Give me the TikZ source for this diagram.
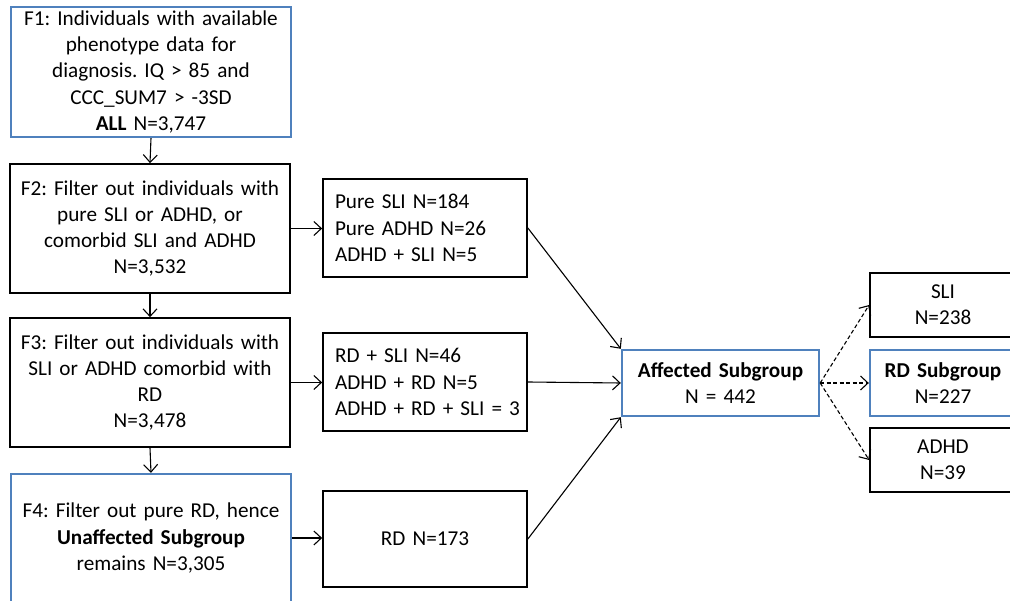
\documentclass[tikz,border=0pt]{standalone}
\usepackage{fontspec}
\setmainfont{Carlito}[WordSpace=0.8]
\usetikzlibrary{arrows.meta}
\definecolor{boxblue}{RGB}{79,129,189}
\frenchspacing
\begin{document}
\begin{tikzpicture}[x=1pt,y=-1pt,
  font=\fontsize{21.2}{26.3}\selectfont,
  bx/.style={draw=black,line width=1.7pt,inner sep=0pt,align=center,anchor=center},
  bluebx/.style={bx,draw=boxblue,line width=2.4pt},
  listbx/.style={bx,minimum width=204pt,minimum height=98pt,text width=180pt,inner xsep=12pt,align=left},
  arr/.style={line width=1.1pt,-{Straight Barb[length=7.5pt,width=14pt,line width=1.1pt]}},
  darr/.style={arr,dash pattern=on 4pt off 2.5pt}]
\useasboundingbox (0,0) rectangle (1010,601);
\clip (0,0) rectangle (1010,601);
\fill[white] (0,0) rectangle (1010,601);
\node[bluebx,minimum width=280pt,minimum height=130pt,text width=275pt] (f1) at (151,72)
  {F1: Individuals with available\\ phenotype data for\\ diagnosis. IQ > 85 and\\ CCC\_SUM7 > -3SD\\ \textbf{ALL} N=3,747};
\node[bx,minimum width=280pt,minimum height=129pt,text width=275pt] (f2) at (150,228.5)
  {F2: Filter out individuals with\\ pure SLI or ADHD, or\\ comorbid SLI and ADHD\\ N=3,532};
\node[bx,minimum width=280pt,minimum height=129pt,text width=275pt] (f3) at (150,382.5)
  {F3: Filter out individuals with\\ SLI or ADHD comorbid with\\ RD\\ N=3,478};
\node[bluebx,minimum width=280pt,minimum height=128pt,text width=275pt] (f4) at (151,538)
  {F4: Filter out pure RD, hence\\ \textbf{Unaffected Subgroup}\\ remains N=3,305};
\node[listbx] (b1) at (425,228)
  {\mbox{Pure SLI N=184}\\ \mbox{Pure ADHD N=26}\\ \mbox{ADHD + SLI N=5}};
\node[listbx] (b2) at (425,382)
  {\mbox{RD + SLI N=46}\\ \mbox{ADHD + RD N=5}\\ \mbox{ADHD + RD + SLI = 3}};
\node[bx,minimum width=204pt,minimum height=96pt,text width=190pt] (b3) at (425,539)
  {RD N=173};
\node[bluebx,minimum width=197pt,minimum height=66pt,text width=192pt] (aff) at (720.5,383)
  {\textbf{Affected Subgroup}\\ N = 442};
\node[bx,minimum width=146pt,minimum height=64pt,text width=142pt] (sli) at (943,305)
  {SLI\\ N=238};
\node[bluebx,minimum width=146pt,minimum height=66pt,text width=142pt] (rd) at (943,383)
  {\textbf{RD Subgroup}\\ N=227};
\node[bx,minimum width=146pt,minimum height=64pt,text width=142pt] (adhd) at (943,460)
  {ADHD\\ N=39};
\draw[arr] (f1.south) -- (f2.north);
\draw[arr] (f2.south) -- (f3.north);
\draw[arr] (f3.south) -- (f4.north);
\draw[arr] (f2.east) -- (f2.east -| b1.west);
\draw[arr] (f3.east) -- (f3.east -| b2.west);
\draw[arr] (f4.east) -- (f4.east -| b3.west);
\draw[arr] (b1.east) -- (aff.north west);
\draw[arr] (b2.east) -- (aff.west);
\draw[arr] (b3.east) -- (aff.south west);
\draw[darr] (aff.east) -- (sli.west);
\draw[darr] (aff.east) -- (rd.west);
\draw[darr] (aff.east) -- (adhd.west);
\end{tikzpicture}
\end{document}
